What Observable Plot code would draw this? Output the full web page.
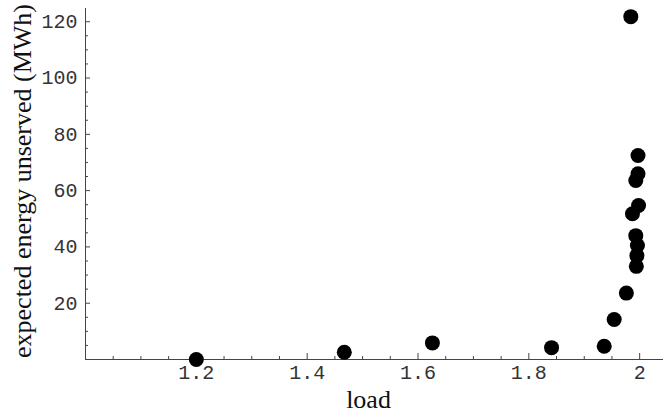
<!DOCTYPE html>
<html>
<head>
<meta charset="utf-8">
<script src="https://cdn.jsdelivr.net/npm/d3@7"></script>
<script src="https://cdn.jsdelivr.net/npm/@observablehq/plot@0.6"></script>
<style>
  html, body { margin: 0; padding: 0; background: #fff; }
  #chart svg { display: block; }
</style>
</head>
<body>
<div id="chart"></div>
<script>
// Data
const load = [1.2, 1.467, 1.626, 1.841, 1.936, 1.954, 1.976, 1.994, 1.995, 1.996, 1.993, 1.987, 1.998, 1.993, 1.997, 1.997, 1.984];
const eeu  = [0, 2.6, 5.9, 4.2, 4.7, 14.2, 23.6, 33.1, 36.9, 40.5, 44.0, 51.8, 54.7, 63.6, 66.0, 72.5, 121.8];

const xMajor = [1.2, 1.4, 1.6, 1.8, 2];
const xMinor = [1.05, 1.1, 1.15, 1.25, 1.3, 1.35, 1.45, 1.5, 1.55, 1.65, 1.7, 1.75, 1.85, 1.9, 1.95];
const yMajor = [20, 40, 60, 80, 100, 120];
const yMinor = [5, 10, 15, 25, 30, 35, 45, 50, 55, 65, 70, 75, 85, 90, 95, 105, 110, 115];

const xLabel = "load";
const yLabel = "expected energy unserved (MWh)";

const points = load.map((x, i) => ({x, y: eeu[i]}));

const axisColor = "#444";
const mono = "'Liberation Mono', 'DejaVu Sans Mono', monospace";
const serif = "'Liberation Serif', 'DejaVu Serif', serif";

const chart = Plot.plot({
  width: 663,
  height: 420,
  marginLeft: 85,
  marginRight: 0,
  marginTop: 8,
  marginBottom: 61,
  x: {domain: [1, 2.043]},
  y: {domain: [0, 124.7]},
  style: {background: "#fff"},
  marks: [
    Plot.ruleY([0], {stroke: axisColor, strokeWidth: 1}),
    Plot.ruleX([1], {stroke: axisColor, strokeWidth: 1}),
    Plot.axisX(xMajor, {anchor: "bottom", tickSize: -6, tickPadding: 11, stroke: axisColor, fill: "#333",
      fontSize: 20, fontFamily: mono, label: null, tickFormat: d => String(d)}),
    Plot.axisX(xMinor, {anchor: "bottom", tickSize: -3, stroke: axisColor, tickFormat: () => "", label: null}),
    Plot.axisY(yMajor, {anchor: "left", tickSize: -5, tickPadding: 13, stroke: axisColor, fill: "#333",
      fontSize: 20, fontFamily: mono, label: null, tickFormat: d => String(d)}),
    Plot.axisY(yMinor, {anchor: "left", tickSize: -3, stroke: axisColor, tickFormat: () => "", label: null}),
    Plot.dot(points, {x: "x", y: "y", r: 7.5, fill: "#000", stroke: "none"}),
    Plot.text([xLabel], {frameAnchor: "bottom", text: d => d, textAnchor: "middle", dy: 48, dx: -6, fontSize: 26, fontFamily: serif, fill: "#111"}),
    Plot.text([yLabel], {frameAnchor: "left", text: d => d, textAnchor: "middle", rotate: -90, dx: -63, dy: -3, fontSize: 26, fontFamily: serif, fill: "#111"})
  ]
});

document.getElementById("chart").appendChild(chart);
</script>
</body>
</html>
